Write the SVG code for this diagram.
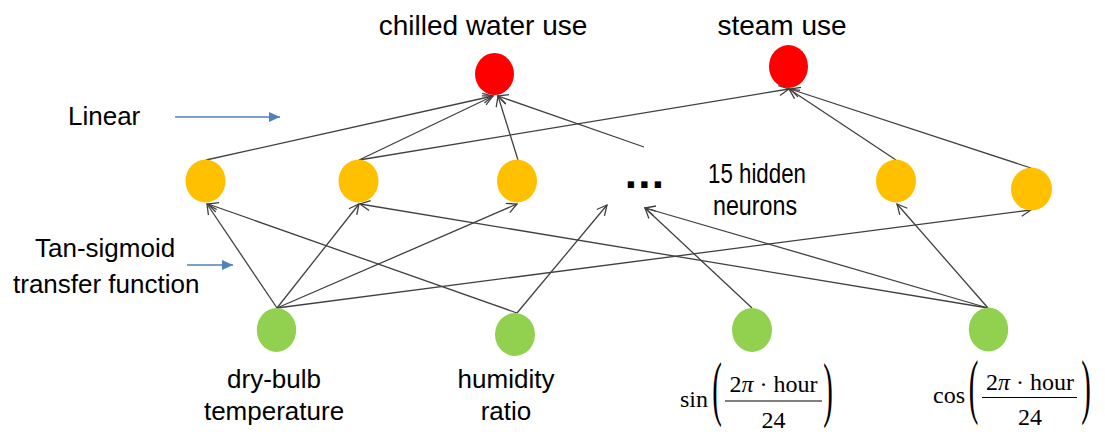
<svg xmlns="http://www.w3.org/2000/svg" width="1105" height="435" viewBox="0 0 1105 435">
  <style>
    .lbl { font-family: "Liberation Sans", Arial, sans-serif; fill: #000; }
    .math { font-family: "Liberation Serif", "Times New Roman", serif; fill: #000; font-size: 24px; }
    .out { fill: #FF0000; }
    .hid { fill: #FFC000; }
    .inp { fill: #92D050; }
    .edge { stroke: #404040; stroke-width: 1.3; fill: none; marker-end: url(#open); }
    .note { stroke: #4F81BD; stroke-width: 1.6; fill: none; marker-end: url(#solid); }
  </style>
  <defs>
    <marker id="open" markerUnits="userSpaceOnUse" markerWidth="14" markerHeight="14" refX="10" refY="5" orient="auto" overflow="visible">
      <path d="M0,0 L10,5 L0,10" fill="none" stroke="#404040" stroke-width="1.3"/>
    </marker>
    <marker id="solid" markerUnits="userSpaceOnUse" markerWidth="14" markerHeight="14" refX="11" refY="5" orient="auto" overflow="visible">
      <path d="M0,0 L11,5 L0,10 z" fill="#4F81BD"/>
    </marker>
  </defs>

  <rect width="1105" height="435" fill="#fff"/>

  <!-- connectors -->
  <g id="connectors">
    <!-- hidden layer to outputs -->
    <line class="edge" x1="206" y1="160" x2="493" y2="96"/>
    <line class="edge" x1="359" y1="160" x2="493" y2="96"/>
    <line class="edge" x1="359" y1="160" x2="789" y2="89"/>
    <line class="edge" x1="518" y1="160" x2="498" y2="96"/>
    <line class="edge" x1="644" y1="147" x2="498" y2="96"/>
    <line class="edge" x1="896" y1="160" x2="789" y2="89"/>
    <line class="edge" x1="1031" y1="168" x2="790" y2="89"/>
    <!-- inputs to hidden layer -->
    <line class="edge" x1="277" y1="308" x2="207" y2="204"/>
    <line class="edge" x1="277" y1="308" x2="359" y2="204"/>
    <line class="edge" x1="277" y1="308" x2="517" y2="204"/>
    <line class="edge" x1="277" y1="308" x2="1031" y2="210"/>
    <line class="edge" x1="517" y1="313" x2="208" y2="204"/>
    <line class="edge" x1="517" y1="313" x2="607" y2="205"/>
    <line class="edge" x1="752" y1="308" x2="645" y2="208"/>
    <line class="edge" x1="988" y1="308" x2="645" y2="208"/>
    <line class="edge" x1="988" y1="308" x2="897" y2="204"/>
    <line class="edge" x1="988" y1="308" x2="360" y2="204"/>
    <!-- layer annotations -->
    <line class="note" x1="175" y1="117" x2="280" y2="117"/>
    <line class="note" x1="187" y1="265" x2="233" y2="265"/>
  </g>

  <!-- output layer -->
  <g id="out-chilled">
    <ellipse class="out" cx="494.5" cy="74" rx="19.5" ry="21"/>
    <text class="lbl" x="483" y="35" font-size="28" text-anchor="middle">chilled water use</text>
  </g>
  <g id="out-steam">
    <ellipse class="out" cx="788.5" cy="66.5" rx="19.5" ry="21.5"/>
    <text class="lbl" x="782" y="35" font-size="28" text-anchor="middle">steam use</text>
  </g>

  <!-- hidden layer -->
  <g id="hidden-1"><ellipse class="hid" cx="205.5" cy="181" rx="20" ry="21.5"/></g>
  <g id="hidden-2"><ellipse class="hid" cx="358.5" cy="181" rx="20" ry="21.5"/></g>
  <g id="hidden-3"><ellipse class="hid" cx="517" cy="181" rx="20" ry="21.5"/></g>
  <g id="hidden-more">
    <text class="lbl" x="645" y="188" font-size="44" font-weight="bold" text-anchor="middle" letter-spacing="1.2">...</text>
    <text class="lbl" x="708" y="183" font-size="28" textLength="98" lengthAdjust="spacingAndGlyphs">15 hidden</text>
    <text class="lbl" x="713" y="215" font-size="28" textLength="84" lengthAdjust="spacingAndGlyphs">neurons</text>
  </g>
  <g id="hidden-4"><ellipse class="hid" cx="896" cy="181" rx="20" ry="21.5"/></g>
  <g id="hidden-5"><ellipse class="hid" cx="1031.5" cy="189" rx="20.5" ry="21.5"/></g>

  <!-- input layer -->
  <g id="in-drybulb">
    <ellipse class="inp" cx="276.5" cy="330" rx="19.7" ry="22"/>
    <text class="lbl" x="274" y="388" font-size="26" text-anchor="middle">dry-bulb</text>
    <text class="lbl" x="274" y="420" font-size="26" text-anchor="middle">temperature</text>
  </g>
  <g id="in-humidity">
    <ellipse class="inp" cx="515" cy="334.5" rx="20" ry="21.5"/>
    <text class="lbl" x="506" y="388" font-size="26" text-anchor="middle">humidity</text>
    <text class="lbl" x="506" y="420" font-size="26" text-anchor="middle">ratio</text>
  </g>
  <g id="in-sin">
    <ellipse class="inp" cx="752" cy="330" rx="20" ry="22"/>
    <text class="math" x="680" y="407">sin</text>
    <text class="math" text-anchor="middle" transform="translate(717,412) scale(1.2,3)">(</text>
    <text class="math" x="773.5" y="392" text-anchor="middle">2<tspan font-style="italic">π</tspan> · hour</text>
    <line x1="725" y1="401" x2="822" y2="401" stroke="#000" stroke-width="1.2"/>
    <text class="math" x="773.5" y="428" text-anchor="middle">24</text>
    <text class="math" text-anchor="middle" transform="translate(828,413) scale(1.2,3)">)</text>
  </g>
  <g id="in-cos">
    <ellipse class="inp" cx="988.5" cy="329.5" rx="19.7" ry="22"/>
    <text class="math" x="933" y="403">cos</text>
    <text class="math" text-anchor="middle" transform="translate(973.5,410) scale(1.2,3)">(</text>
    <text class="math" x="1030" y="390" text-anchor="middle">2<tspan font-style="italic">π</tspan> · hour</text>
    <line x1="982" y1="397.5" x2="1077" y2="397.5" stroke="#000" stroke-width="1.2"/>
    <text class="math" x="1030" y="425" text-anchor="middle">24</text>
    <text class="math" text-anchor="middle" transform="translate(1086,410) scale(1.2,3)">)</text>
  </g>

  <!-- layer captions -->
  <g id="caption-linear">
    <text class="lbl" x="68" y="125" font-size="26">Linear</text>
  </g>
  <g id="caption-tansig">
    <text class="lbl" x="35" y="257" font-size="26">Tan-sigmoid</text>
    <text class="lbl" x="13" y="293" font-size="26">transfer function</text>
  </g>
</svg>
